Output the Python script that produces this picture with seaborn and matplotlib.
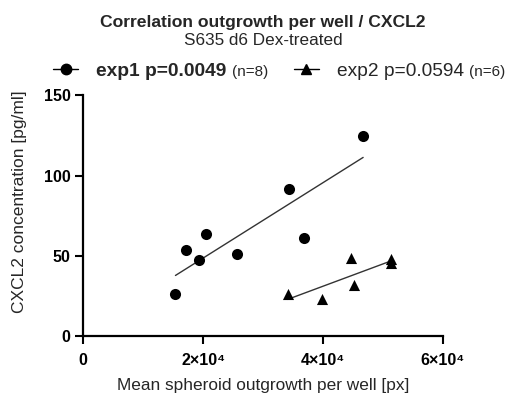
import numpy as np
import pandas as pd
import matplotlib
matplotlib.use("Agg")
import matplotlib.pyplot as plt
import seaborn as sns

# values
exp1_x = [15400, 17100, 19300, 20500, 25600, 34400, 36900, 46700]
exp1_y = [26.7, 53.8, 47.7, 63.4, 51.5, 91.5, 61.3, 124.8]
exp2_x = [34100, 39800, 44750, 45100, 51400, 51400]
exp2_y = [26.5, 23.0, 49.0, 31.7, 48.4, 45.6]

x_ticks = [0, 20000, 40000, 60000]
x_tick_labels = ["0", "2×10⁴", "4×10⁴", "6×10⁴"]
y_ticks = [0, 50, 100, 150]
legend_labels = ["exp1 p=0.0049", "exp2 p=0.0594"]
legend_n = ["(n=8)", "(n=6)"]

sns.set_style("ticks")
plt.rcParams['font.family'] = ['Liberation Sans', 'DejaVu Sans']

df1 = pd.DataFrame({"x": exp1_x, "y": exp1_y})
df2 = pd.DataFrame({"x": exp2_x, "y": exp2_y})

fig = plt.figure(figsize=(5.26, 3.97), dpi=100)
ax = fig.add_axes([0.158, 0.1524, 0.684, 0.608])

# regression lines over the data range
sns.regplot(data=df1, x="x", y="y", ax=ax, ci=None, truncate=True, scatter=False,
            line_kws=dict(color="#333333", lw=1.0))
sns.regplot(data=df2, x="x", y="y", ax=ax, ci=None, truncate=True, scatter=False,
            line_kws=dict(color="#333333", lw=1.0))

sns.scatterplot(data=df1, x="x", y="y", ax=ax, marker="o", s=64, color="black",
                edgecolor="black", linewidth=0, zorder=3)
sns.scatterplot(data=df2, x="x", y="y", ax=ax, marker="^", s=64, color="black",
                edgecolor="black", linewidth=0, zorder=3)

ax.set_xlim(0, 60000)
ax.set_ylim(0, 150)
ax.set_xticks(x_ticks)
ax.set_xticklabels(x_tick_labels)
ax.set_yticks(y_ticks)
for lab in ax.get_xticklabels() + ax.get_yticklabels():
    lab.set_fontweight("bold")
    lab.set_fontsize(11.5)
ax.tick_params(width=1.5, length=6, direction="out", pad=3, colors="black")
ax.tick_params(axis="x", pad=6)
sns.despine(ax=ax)
for sp in ["left", "bottom"]:
    ax.spines[sp].set_linewidth(1.6)
    ax.spines[sp].set_color("black")

ax.set_xlabel("Mean spheroid outgrowth per well [px]", fontsize=12.4, labelpad=7)
ax.set_ylabel("CXCL2 concentration [pg/ml]", fontsize=12.5)
ax.yaxis.set_label_coords(-0.155, 0.56)

fig.text(0.5, 0.943, "Correlation outgrowth per well / CXCL2", ha="center", va="center",
         fontsize=12.6, fontweight="bold")
fig.text(0.5, 0.899, "S635 d6 Dex-treated", ha="center", va="center", fontsize=12.3)

# legend
h1 = plt.Line2D([], [], color="black", marker="o", markersize=7.5, lw=1.0)
h2 = plt.Line2D([], [], color="black", marker="^", markersize=7.5, lw=1.0)
leg = fig.legend([h1, h2], legend_labels, loc="center left",
                 bbox_to_anchor=(0.101, 0.821), ncol=2, frameon=False, fontsize=13.8,
                 handlelength=1.3, handletextpad=0.95, columnspacing=3.5,
                 borderaxespad=0, borderpad=0)
texts = leg.get_texts()
texts[0].set_fontweight("bold")
texts[1].set_fontsize(13.8)

# the "(n=...)" parts sit right after each legend label, in a smaller plain font
fig.canvas.draw()
for t, n in zip(texts, legend_n):
    bb = t.get_window_extent()
    fig.text(bb.x1 + 5, (bb.y0 + bb.y1) / 2 - 1, n, transform=None,
             ha="left", va="center", fontsize=11)

fig.savefig("out.png", dpi=100)
